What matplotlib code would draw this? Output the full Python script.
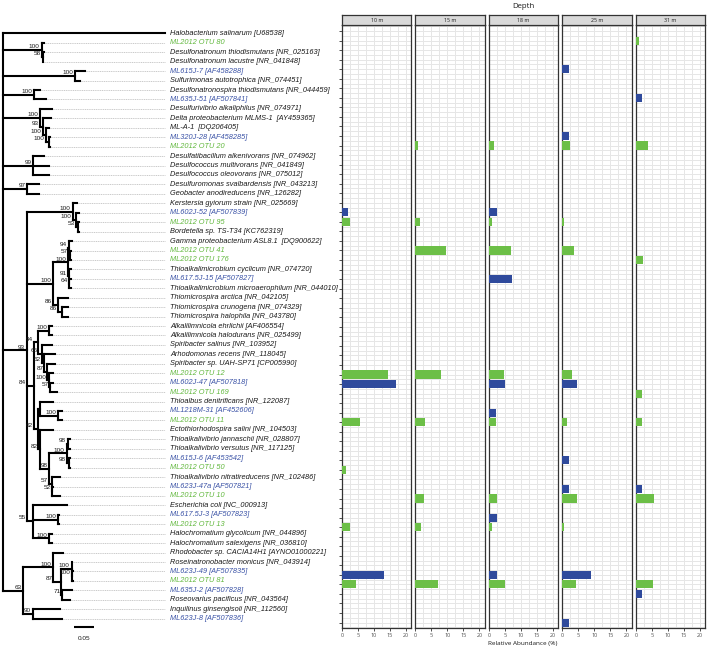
import numpy as np
import matplotlib
matplotlib.use("Agg")
import matplotlib.pyplot as plt
from matplotlib.collections import LineCollection

# ------------------------------------------------------------------
# data
# ------------------------------------------------------------------
taxa = [
    'Halobacterium salinarum [U68538]', 'ML2012 OTU 80',
    'Desulfonatronum thiodismutans [NR_025163]', 'Desulfonatronum lacustre [NR_041848]',
    'ML615J-7 [AF458288]', 'Sulfurimonas autotrophica [NR_074451]',
    'Desulfonatronospira thiodismutans [NR_044459]', 'ML635J-51 [AF507841]',
    'Desulfurivibrio alkaliphilus [NR_074971]', 'Delta proteobacterium MLMS-1  [AY459365]',
    'ML-A-1  [DQ206405]', 'ML320J-28 [AF458285]', 'ML2012 OTU 20',
    'Desulfatibacillum alkenivorans [NR_074962]', 'Desulfococcus multivorans [NR_041849]',
    'Desulfococcus oleovorans [NR_075012]', 'Desulfuromonas svalbardensis [NR_043213]',
    'Geobacter anodireducens [NR_126282]', 'Kerstersia gyiorum strain [NR_025669]',
    'ML602J-52 [AF507839]', 'ML2012 OTU 95', 'Bordetella sp. TS-T34 [KC762319]',
    'Gamma proteobacterium ASL8.1  [DQ900622]', 'ML2012 OTU 41', 'ML2012 OTU 176',
    'Thioalkalimicrobium cyclicum [NR_074720]', 'ML617.5J-15 [AF507827]',
    'Thioalkalimicrobium microaerophilum [NR_044010]', 'Thiomicrospira arctica [NR_042105]',
    'Thiomicrospira crunogena [NR_074329]', 'Thiomicrospira halophila [NR_043780]',
    'Alkalilimnicola ehrlichii [AF406554]', 'Alkalilimnicola halodurans [NR_025499]',
    'Spiribacter salinus [NR_103952]', 'Arhodomonas recens [NR_118045]',
    'Spiribacter sp. UAH-SP71 [CP005990]', 'ML2012 OTU 12', 'ML602J-47 [AF507818]',
    'ML2012 OTU 169', 'Thioalbus denitrificans [NR_122087]', 'ML1218M-31 [AF452606]',
    'ML2012 OTU 11', 'Ectothiorhodospira salini [NR_104503]',
    'Thioalkalivibrio jannaschii [NR_028807]', 'Thioalkalivibrio versutus [NR_117125]',
    'ML615J-6 [AF453542]', 'ML2012 OTU 50', 'Thioalkalivibrio nitratireducens [NR_102486]',
    'ML623J-47a [AF507821]', 'ML2012 OTU 10', 'Escherichia coli [NC_000913]',
    'ML617.5J-3 [AF507823]', 'ML2012 OTU 13', 'Halochromatium glycolicum [NR_044896]',
    'Halochromatium salexigens [NR_036810]', 'Rhodobacter sp. CACIA14H1 [AYNO01000221]',
    'Roseinatronobacter monicus [NR_043914]', 'ML623J-49 [AF507835]', 'ML2012 OTU 81',
    'ML635J-2 [AF507828]', 'Roseovarius pacificus [NR_043564]',
    'Inquilinus ginsengisoli [NR_112560]', 'ML623J-8 [AF507836]',
]

# r = reference sequence, o = ML2012 OTU, c = Mono Lake clone
taxon_source = [
    'r', 'o', 'r', 'r', 'c', 'r', 'r', 'c', 'r', 'r', 'r', 'c', 'o', 'r', 'r', 'r',
    'r', 'r', 'r', 'c', 'o', 'r', 'r', 'o', 'o', 'r', 'c', 'r', 'r', 'r', 'r', 'r',
    'r', 'r', 'r', 'r', 'o', 'c', 'o', 'r', 'c', 'o', 'r', 'r', 'r', 'c', 'o', 'r',
    'c', 'o', 'r', 'c', 'o', 'r', 'r', 'r', 'r', 'c', 'o', 'c', 'r', 'r', 'c',
]

# tips are indices into taxa, internal labels are bootstrap supports
tree_newick = """
(0:0.4104,
 (1:0.0051,(2:0.0038,3:0.0025)58:0.0025)100:0.0970,
 (4:0.0254,5:0.0127)100:0.1820,
 (6:0.0145,7:0.0289)100:0.0787,
 (8:0.0305,(9:0.0211,(10:0.0096,(11:0.0025,12:0.0025)100:0.0091)100:0.0076)93:0.0069)100:0.0931,
 (13:0.0279,14:0.0406,15:0.0406)99:0.0761,
 (16:0.0297,17:0.0297)97:0.0609,
 ((18:0.0117,(19:0.0084,(20:0.0020,21:0.0020)53:0.0043)100:0.0084)100:0.1168,
  (((22:0.0074,(23:0.0025,24:0.0025)57:0.0018)94:0.0013,
    (25:0.0043,(26:0.0030,27:0.0030)64:0.0013)91:0.0013)100:0.0381,
   (28:0.0254,(29:0.0168,30:0.0168)86:0.0086)86:0.0127)100:0.0675,
  (((31:0.0069,32:0.0076)100:0.0274,
    (33:0.0246,(34:0.0267,(35:0.0203,(36:0.0096,(37:0.0071,38:0.0157)57:0.0025)100:0.0063)87:0.0063)62:0.0063)65:0.0089)94:0.0119,
   ((39:0.0338,(40:0.0086,41:0.0086)100:0.0464):0.0038,
    (42:0.0338,(((43:0.0043,44:0.0043)98:0.0041,(45:0.0030,46:0.0030)98:0.0053)100:0.0442,
     (47:0.0211,(48:0.0020,49:0.0190)52:0.0020)57:0.0061)98:0.0236)82:0.0038)62:0.0119)84:0.0180,
  (50:0.0848,(51:0.0013,52:0.0013)100:0.0635,(53:0.0061,54:0.0061)100:0.0406)55:0.0168)93:0.0594,
 ((55:0.0254,((56:0.0025,(57:0.0025,58:0.0025)100:0.0025)100:0.0254,
   (59:0.0234,60:0.0190)71:0.0025)87:0.0208)100:0.0761,
  (61:0.0678,62:0.0721)90:0.0254)63:0.0508);
"""

depths = ['10 m', '15 m', '18 m', '25 m', '31 m']

bar_taxa = [
    'ML2012 OTU 80', 'ML615J-7 [AF458288]', 'ML635J-51 [AF507841]', 'ML320J-28 [AF458285]',
    'ML2012 OTU 20', 'ML602J-52 [AF507839]', 'ML2012 OTU 95', 'ML2012 OTU 41',
    'ML2012 OTU 176', 'ML617.5J-15 [AF507827]', 'ML2012 OTU 12', 'ML602J-47 [AF507818]',
    'ML2012 OTU 169', 'ML1218M-31 [AF452606]', 'ML2012 OTU 11', 'ML615J-6 [AF453542]',
    'ML2012 OTU 50', 'ML623J-47a [AF507821]', 'ML2012 OTU 10', 'ML617.5J-3 [AF507823]',
    'ML2012 OTU 13', 'ML623J-49 [AF507835]', 'ML2012 OTU 81', 'ML635J-2 [AF507828]',
    'ML623J-8 [AF507836]',
]
abund_10m = [0, 0, 0, 0, 0, 1.9, 2.5, 0, 0, 0, 14.4, 16.9, 0, 0, 5.6,
             0, 1.35, 0, 0, 0, 2.5, 13.1, 4.3, 0, 0]
abund_15m = [0, 0, 0, 0, 0.8, 0, 1.5, 9.6, 0, 0, 8.0, 0, 0, 0, 3.0,
             0, 0, 0, 2.6, 0, 1.6, 0, 6.9, 0, 0]
abund_18m = [0, 0, 0, 0, 1.7, 2.5, 1.0, 7.0, 0, 7.3, 4.7, 4.9, 0, 2.3, 2.1,
             0, 0, 0, 2.5, 2.5, 1.1, 2.5, 5.0, 0, 0]
abund_25m = [0, 2.2, 0, 2.2, 2.4, 0, 0.6, 3.6, 0, 0, 3.0, 4.5, 0, 0, 1.35,
             2.2, 0, 2.2, 4.5, 0, 0.4, 9.1, 4.4, 0, 2.2]
abund_31m = [1.1, 0, 1.9, 0, 3.75, 0, 0, 0, 2.4, 0, 0, 0, 1.9, 0, 1.8,
             0, 0, 1.9, 5.8, 0, 0, 0, 5.5, 1.9, 0]

# ------------------------------------------------------------------
# styling
# ------------------------------------------------------------------
TEXT_COL = {'r': '#1a1a1a', 'o': '#62b83e', 'c': '#3a52a6'}
BAR_COL = {'o': '#6cbf47', 'c': '#2f4a9c'}
W, H = 708, 648
PX = 1 / 394.0          # substitutions per pixel (0.05 -> ~19.7 px)
ROOT_PX = 3.3
LEADER_END = (165 - ROOT_PX) * PX
LABEL_X = (170 - ROOT_PX) * PX


# ------------------------------------------------------------------
# newick helpers
# ------------------------------------------------------------------
def parse_newick(text):
    s = ''.join(text.split()).rstrip(';')
    pos = 0

    def read_node():
        nonlocal pos
        node = {'children': [], 'label': '', 'length': 0.0}
        if s[pos] == '(':
            pos += 1
            while True:
                node['children'].append(read_node())
                if s[pos] == ',':
                    pos += 1
                    continue
                pos += 1  # ')'
                break
        start = pos
        while pos < len(s) and s[pos] not in ',():':
            pos += 1
        node['label'] = s[start:pos]
        if pos < len(s) and s[pos] == ':':
            pos += 1
            start = pos
            while pos < len(s) and s[pos] not in ',()':
                pos += 1
            node['length'] = float(s[start:pos])
        return node

    return read_node()


def layout(node, x0=0.0):
    node['x'] = x0 + node['length']
    if node['children']:
        for c in node['children']:
            layout(c, node['x'])
        node['y'] = float(np.mean([c['y'] for c in node['children']]))
    else:
        node['y'] = int(node['label']) + 1


def collect(node, segs, leaders, supports, tips, parent_x=None):
    if not node['children']:
        tips.append(node)
        if node['x'] < LEADER_END - 1e-6:
            leaders.append([(node['x'], node['y']), (LEADER_END, node['y'])])
        return
    ys = [c['y'] for c in node['children']]
    segs.append([(node['x'], min(ys)), (node['x'], max(ys))])
    for c in node['children']:
        segs.append([(node['x'], c['y']), (c['x'], c['y'])])
        collect(c, segs, leaders, supports, tips, node['x'])
    if node['label'] and parent_x is not None:
        # short stems push the support value left of the parent node
        if (node['x'] - parent_x) / PX >= 9:
            lx = node['x'] - 2 * PX
        else:
            lx = parent_x - 1 * PX
        supports.append((lx, node['y'] - 0.35, node['label']))


# ------------------------------------------------------------------
# figure
# ------------------------------------------------------------------
fig = plt.figure(figsize=(W / 100, H / 100), dpi=100)

# tree panel: rows 1..63 at y = 33.4 + (i-1)*9.44 px
row_px0, row_dpx = 33.4, 9.44
tax = fig.add_axes([0, 0, 340 / W, 1])
tax.set_xlim(-ROOT_PX * PX, (340 - ROOT_PX) * PX)
tax.set_ylim(1 + (H - row_px0) / row_dpx, 1 - row_px0 / row_dpx)
tax.axis('off')

tree = parse_newick(tree_newick)
layout(tree)
segs, leaders, supports, tips = [], [], [], []
collect(tree, segs, leaders, supports, tips)

tax.add_collection(LineCollection(leaders, colors='#b5b5b5', linewidths=0.5,
                                  linestyles=(0, (1.6, 1.0)), zorder=1))
tax.add_collection(LineCollection(segs, colors='black', linewidths=1.5,
                                  capstyle='projecting', zorder=2))

for lx, ly, lab in supports:
    tax.text(lx, ly, lab, ha='right', va='center', fontsize=4.6,
             family='Liberation Sans', color='#1a1a1a')

for t in tips:
    i = int(t['label'])
    tax.text(LABEL_X, t['y'], taxa[i], ha='left', va='center', fontsize=5.3,
             family='Liberation Sans', style='italic', color=TEXT_COL[taxon_source[i]])

# scale bar
sb_x0 = (74 - ROOT_PX) * PX
sb_y = 1 + (626.7 - row_px0) / row_dpx
tax.plot([sb_x0, sb_x0 + 0.05], [sb_y, sb_y], color='black', lw=1.5, solid_capstyle='butt')
tax.text(sb_x0 + 0.025, 1 + (638.5 - row_px0) / row_dpx, '0.05', ha='center', va='center',
         fontsize=4.6, family='Liberation Sans', color='#1a1a1a')

# abundance panels
rows = [taxa.index(t) + 1 for t in bar_taxa]
bar_colors = [BAR_COL[taxon_source[taxa.index(t)]] for t in bar_taxa]
abund = [abund_10m, abund_15m, abund_18m, abund_25m, abund_31m]

p_left0, p_step, p_w = 342, 73.45, 69.4
p_top, p_bot = 25.3, 628.3
strip_top = 14.7
bfont = 'Open Sans'

for k, (depth, vals) in enumerate(zip(depths, abund)):
    left = p_left0 + k * p_step
    ax = fig.add_axes([left / W, (H - p_bot) / H, p_w / W, (p_bot - p_top) / H])
    ax.set_xlim(0, 21.7)
    ax.set_ylim(63.6, 0.4)

    for gx in np.arange(0, 21.7, 2.5):
        ax.axvline(gx, color='#e6e6e6', lw=0.7, zorder=0)
    for gy in np.arange(0.5, 64, 0.5):
        ax.axhline(gy, color='#e6e6e6', lw=0.7, zorder=0)

    v = np.array(vals, dtype=float)
    keep = v > 0
    ax.barh(np.array(rows)[keep], v[keep], height=0.85,
            color=np.array(bar_colors)[keep], linewidth=0, zorder=3)

    for sp in ax.spines.values():
        sp.set_color('#333333')
        sp.set_linewidth(0.9)

    ax.set_xticks([0, 5, 10, 15, 20])
    ax.set_xticklabels(['0', '5', '10', '15', '20'], fontsize=3.9, family=bfont, color='#4d4d4d')
    ax.tick_params(axis='x', length=2.2, width=0.6, color='#333333', pad=1.2)
    if k == 0:
        ax.set_yticks(np.arange(1, 64))
        ax.set_yticklabels([])
        ax.tick_params(axis='y', length=2.2, width=0.6, color='#333333')
    else:
        ax.set_yticks([])

    # facet strip
    sax = fig.add_axes([left / W, (H - p_top) / H, p_w / W, (p_top - strip_top) / H])
    sax.set_facecolor('#d9d9d9')
    sax.set_xticks([])
    sax.set_yticks([])
    for sp in sax.spines.values():
        sp.set_color('#333333')
        sp.set_linewidth(0.9)
    sax.text(0.5, 0.5, depth, ha='center', va='center', fontsize=3.8,
             family=bfont, color='#1a1a1a', transform=sax.transAxes)

fig.text(523 / W, 1 - 6 / H, 'Depth', ha='center', va='center', fontsize=5.6,
         family=bfont, color='#1a1a1a')
fig.text(523 / W, 1 - 643 / H, 'Relative Abundance (%)', ha='center', va='center',
         fontsize=4.6, family=bfont, color='#1a1a1a')

fig.savefig('out.png', dpi=100)
